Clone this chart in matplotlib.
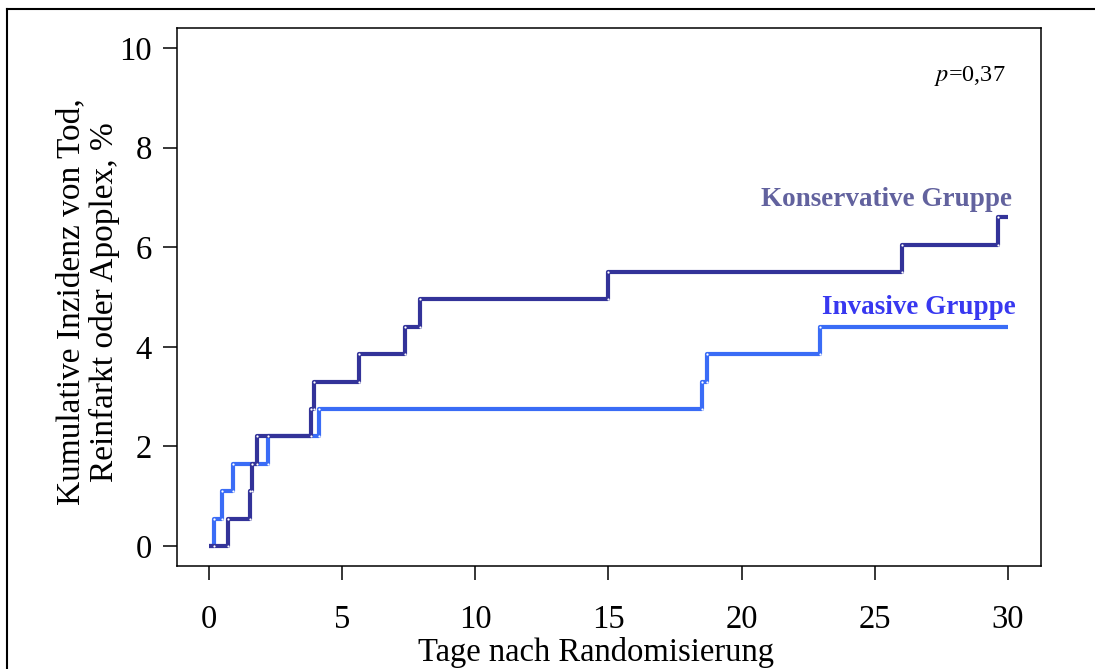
import numpy as np
import matplotlib
matplotlib.use("Agg")
import matplotlib.pyplot as plt
from matplotlib.lines import Line2D

plt.rcParams['font.family'] = ['Liberation Serif', 'DejaVu Serif']
plt.rcParams['mathtext.fontset'] = 'stix'

# Data
kons_t = [0, 0.72, 1.55, 1.60, 1.81, 3.83, 3.95, 5.64, 7.37, 7.91, 15.0, 26.02, 29.62, 30.0]
kons_y = [0, 0.55, 1.10, 1.65, 2.20, 2.75, 3.30, 3.85, 4.40, 4.95, 5.50, 6.05, 6.60, 6.60]
inv_t = [0, 0.20, 0.50, 0.91, 2.22, 4.15, 18.5, 18.7, 22.94, 30.0]
inv_y = [0, 0.55, 1.10, 1.65, 2.20, 2.75, 3.30, 3.85, 4.40, 4.40]

x_ticks = [0, 5, 10, 15, 20, 25, 30]
y_ticks = [0, 2, 4, 6, 8, 10]

DARK = '#333399'
BLUE = '#3a6cf6'

fig = plt.figure(figsize=(10.95, 6.69), dpi=100)
ax = fig.add_axes([177 / 1095, 1 - 566 / 669, (1041 - 177) / 1095, (566 - 28) / 669])


def draw_steps(t, y, color):
    ax.plot(t, y, drawstyle='steps-post', color=color, lw=3, solid_capstyle='butt', zorder=3)
    # small white dots at the step corners
    t = np.asarray(t)
    y = np.asarray(y)
    cx = np.concatenate([t[1:-1], t[1:-1]])
    cy = np.concatenate([y[:-2], y[1:-1]])
    ax.plot(cx, cy, ls='none', marker='o', ms=1.6, mfc='white', mec='none', zorder=4)


draw_steps(inv_t, inv_y, BLUE)
draw_steps(kons_t, kons_y, DARK)

ax.set_xlim(-1.2, 31.24)
ax.set_ylim(-0.4, 10.4)
ax.set_xticks(x_ticks)
ax.set_yticks(y_ticks)
ax.tick_params(axis='both', direction='out', length=10, width=1.1, labelsize=23.5)
ax.tick_params(axis='x', pad=17.5)
ax.tick_params(axis='y', pad=8)
for s in ax.spines.values():
    s.set_linewidth(1.1)

ax.text(30.15, 6.82, 'Konservative Gruppe', color='#62629e', fontsize=19.5,
        fontweight='bold', ha='right', va='baseline')
ax.text(30.28, 4.66, 'Invasive Gruppe', color='#3838f0', fontsize=19.5,
        fontweight='bold', ha='right', va='baseline')
ax.text(29.9, 9.34, r'$\mathit{p}$=0,37', fontsize=17.5, ha='right', va='baseline')

fig.text(596 / 1095, 1 - 637 / 669, 'Tage nach Randomisierung', fontsize=23.5,
         ha='center', va='top')
fig.text(88 / 1095, 1 - 302 / 669, 'Kumulative Inzidenz von Tod,\nReinfarkt oder Apoplex, %',
         fontsize=24, rotation=90, ha='center', va='center', multialignment='center',
         linespacing=1.1)

# outer frame (left and top edge only)
fig.add_artist(Line2D([7 / 1095, 7 / 1095], [0, 1 - 9 / 669], transform=fig.transFigure,
                      color='black', lw=1.5))
fig.add_artist(Line2D([7 / 1095, 1], [1 - 9 / 669, 1 - 9 / 669], transform=fig.transFigure,
                      color='black', lw=1.5))

fig.savefig('out.png', dpi=100)
